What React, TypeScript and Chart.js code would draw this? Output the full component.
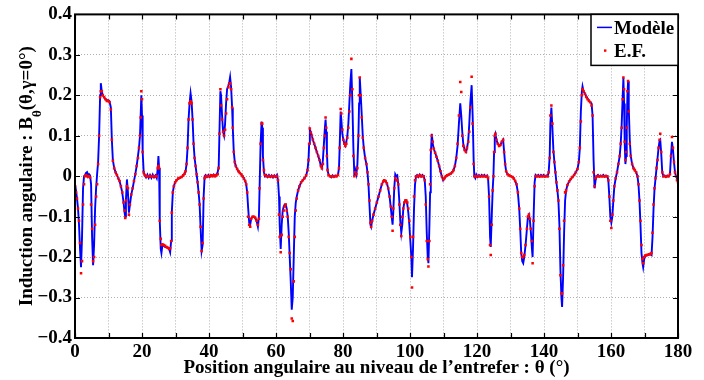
import React, { useEffect, useRef } from "react";
import { Chart, registerables } from "chart.js";

Chart.register(...registerables);

// Angular position (degrees)
const theta = [
  0, 0.3, 0.6, 0.9, 1.2, 1.5, 1.8, 2.1, 2.4, 2.7,
  3.0, 3.3, 3.6, 3.9, 4.2, 4.5, 4.8, 5.1, 5.4, 5.7,
  6.0, 6.3, 6.6, 6.9, 7.2, 7.5, 7.7, 8.0, 8.3, 8.7,
  9.1, 9.5, 9.9, 10.3, 10.7, 11.0, 11.3, 11.7, 12.1, 12.5,
  12.9, 13.3, 13.7, 14.1, 14.5, 14.8, 15.0, 15.2, 15.5, 15.8,
  16.1, 16.4, 16.8, 17.2, 17.6, 18.0, 18.4, 18.8, 19.1, 19.4,
  19.6, 19.8, 20.0, 20.2, 20.5, 20.8, 21.2, 21.6, 22.0, 22.4,
  22.8, 23.2, 23.6, 24.0, 24.4, 24.7, 24.9, 25.1, 25.3, 25.6,
  25.8, 26.1, 26.5, 26.9, 27.3, 27.7, 28.1, 28.4, 28.7, 28.9,
  29.2, 29.5, 29.9, 30.3, 30.8, 31.3, 31.8, 32.3, 32.7, 33.0,
  33.3, 33.6, 33.9, 34.2, 34.5, 34.8, 35.1, 35.4, 35.7, 36.0,
  36.3, 36.6, 36.9, 37.2, 37.5, 37.8, 38.1, 38.4, 38.7, 39.0,
  39.4, 39.8, 40.2, 40.6, 41.0, 41.4, 41.8, 42.2, 42.6, 42.9,
  43.1, 43.4, 43.6, 43.9, 44.2, 44.5, 44.8, 45.1, 45.4, 45.8,
  46.1, 46.3, 46.6, 46.9, 47.1, 47.4, 47.7, 48.0, 48.4, 48.8,
  49.2, 49.6, 50.0, 50.4, 50.8, 51.1, 51.4, 51.7, 52.0, 52.3,
  52.6, 53.0, 53.4, 53.8, 54.2, 54.6, 54.9, 55.1, 55.4, 55.7,
  55.9, 56.1, 56.4, 56.7, 57.1, 57.5, 57.9, 58.3, 58.7, 59.1,
  59.5, 59.9, 60.3, 60.6, 60.9, 61.1, 61.4, 61.7, 62.0, 62.3,
  62.6, 62.9, 63.2, 63.5, 63.8, 64.1, 64.4, 64.7, 65.0, 65.3,
  65.6, 65.9, 66.2, 66.6, 67.0, 67.5, 68.0, 68.5, 69.0, 69.4,
  69.7, 69.9, 70.1, 70.4, 70.7, 71.0, 71.4, 71.8, 72.2, 72.6,
  73.0, 73.4, 73.7, 74.0, 74.3, 74.6, 74.8, 75.0, 75.2, 75.4,
  75.7, 76.1, 76.5, 76.9, 77.3, 77.7, 78.1, 78.5, 78.8, 79.0,
  79.3, 79.5, 79.8, 80.1, 80.4, 80.7, 81.0, 81.3, 81.6, 81.9,
  82.2, 82.5, 82.8, 83.1, 83.4, 83.7, 84.0, 84.3, 84.6, 84.8,
  85.0, 85.3, 85.6, 85.9, 86.2, 86.6, 87.0, 87.3, 87.6, 87.9,
  88.2, 88.4, 88.7, 89.1, 89.6, 90.1, 90.6, 91.1, 91.6, 92.0,
  92.3, 92.7, 93.1, 93.5, 93.9, 94.3, 94.6, 94.8, 95.0, 95.3,
  95.6, 95.9, 96.2, 96.5, 96.8, 97.1, 97.4, 97.7, 98.0, 98.3,
  98.6, 98.9, 99.2, 99.5, 99.8, 100.1, 100.4, 100.6, 100.9, 101.2,
  101.5, 101.8, 102.1, 102.5, 102.9, 103.3, 103.7, 104.1, 104.4, 104.7,
  105.0, 105.3, 105.5, 105.8, 106.0, 106.2, 106.5, 106.8, 107.1, 107.5,
  107.9, 108.3, 108.7, 109.1, 109.5, 109.9, 110.3, 110.7, 111.1, 111.6,
  112.1, 112.6, 113.0, 113.4, 113.8, 114.2, 114.6, 115.0, 115.3, 115.6,
  115.9, 116.3, 116.7, 117.0, 117.4, 117.7, 118.0, 118.4, 118.7, 119.0,
  119.2, 119.5, 119.8, 120.2, 120.6, 121.0, 121.4, 121.8, 122.2, 122.6,
  123.0, 123.3, 123.6, 123.9, 124.1, 124.4, 124.7, 124.9, 125.1, 125.3,
  125.5, 125.8, 126.2, 126.6, 127.0, 127.4, 127.8, 128.1, 128.4, 128.7,
  129.1, 129.6, 130.1, 130.6, 131.0, 131.4, 131.8, 132.2, 132.6, 132.9,
  133.2, 133.5, 133.8, 134.1, 134.5, 134.9, 135.2, 135.5, 135.8, 136.1,
  136.4, 136.6, 136.9, 137.2, 137.5, 137.9, 138.3, 138.7, 139.1, 139.5,
  139.9, 140.3, 140.7, 141.1, 141.4, 141.7, 141.9, 142.2, 142.5, 142.8,
  143.1, 143.4, 143.7, 144.0, 144.3, 144.6, 144.9, 145.2, 145.4, 145.7,
  146.0, 146.3, 146.6, 147.0, 147.5, 148.0, 148.5, 149.0, 149.5, 150.0,
  150.4, 150.7, 151.0, 151.3, 151.5, 151.8, 152.2, 152.6, 153.0, 153.4,
  153.8, 154.2, 154.5, 154.8, 155.1, 155.4, 155.7, 156.1, 156.5, 156.9,
  157.3, 157.7, 158.1, 158.5, 158.9, 159.2, 159.5, 159.8, 160.1, 160.4,
  160.7, 161.0, 161.4, 161.8, 162.2, 162.6, 162.9, 163.2, 163.5, 163.7,
  163.9, 164.1, 164.3, 164.5, 164.7, 164.9, 165.1, 165.3, 165.6, 165.9,
  166.3, 166.7, 167.1, 167.5, 167.9, 168.2, 168.5, 168.8, 169.1, 169.4,
  169.6, 169.9, 170.2, 170.6, 171.0, 171.4, 171.8, 172.1, 172.4, 172.7,
  173.0, 173.3, 173.6, 173.9, 174.2, 174.5, 174.7, 175.0, 175.3, 175.6,
  176.0, 176.4, 176.8, 177.2, 177.6, 177.9, 178.2, 178.5, 178.8, 179.1,
  179.4, 179.7, 180.0,
];

// "Modèle" (analytical model), B_theta in T
const modele = [
  -0.02, -0.035, -0.055, -0.08, -0.12, -0.18, -0.225, -0.15, -0.03, 0.0,
  0.003, 0.008, 0.01, 0.0, 0.005, 0.002, -0.02, -0.15, -0.22, -0.17,
  -0.08, -0.03, 0.005, 0.035, 0.1, 0.2, 0.23, 0.21, 0.2, 0.195,
  0.19, 0.188, 0.188, 0.185, 0.17, 0.09, 0.04, 0.02, 0.01, 0.003,
  -0.005, -0.012, -0.025, -0.04, -0.065, -0.09, -0.1, -0.06, -0.008, -0.04,
  -0.09, -0.07, -0.045, -0.03, -0.012, 0.005, 0.025, 0.05, 0.07, 0.1,
  0.15, 0.2, 0.15, 0.06, 0.01, 0.003, -0.003, 0.004, -0.004, 0.003,
  -0.004, 0.004, -0.003, 0.002, -0.005, 0.02, 0.05, 0.02, -0.11, -0.18,
  -0.19, -0.17, -0.172, -0.175, -0.175, -0.178, -0.18, -0.188, -0.16, -0.09,
  -0.04, -0.025, -0.015, -0.01, -0.006, -0.004, -0.002, 0.002, 0.006, 0.012,
  0.03, 0.07, 0.14, 0.18, 0.205, 0.185, 0.14, 0.08, 0.045, 0.025,
  0.005, -0.015, -0.04, -0.07, -0.13, -0.185, -0.17, -0.05, 0.0, 0.003,
  -0.002, 0.003, -0.002, 0.003, 0.0, 0.004, 0.0, 0.004, 0.01, 0.025,
  0.1, 0.21, 0.2, 0.15, 0.11, 0.1, 0.13, 0.18, 0.215, 0.225,
  0.235, 0.245, 0.22, 0.17, 0.12, 0.06, 0.035, 0.025, 0.018, 0.012,
  0.008, 0.005, 0.0, -0.005, -0.012, -0.02, -0.04, -0.08, -0.115, -0.12,
  -0.105, -0.1, -0.1, -0.103, -0.11, -0.125, -0.1, -0.03, 0.08, 0.135,
  0.12, 0.05, 0.01, 0.0, 0.003, -0.002, 0.003, -0.002, 0.002, -0.003,
  0.002, -0.002, 0.003, -0.01, -0.05, -0.12, -0.18, -0.12, -0.085, -0.075,
  -0.07, -0.07, -0.08, -0.1, -0.14, -0.2, -0.26, -0.33, -0.3, -0.2,
  -0.1, -0.065, -0.05, -0.035, -0.025, -0.015, -0.01, -0.005, 0.002, 0.015,
  0.04, 0.08, 0.115, 0.11, 0.1, 0.09, 0.08, 0.07, 0.06, 0.05,
  0.04, 0.025, 0.02, 0.04, 0.08, 0.12, 0.14, 0.11, 0.06, 0.015,
  0.003, 0.0, -0.003, 0.002, -0.002, 0.002, 0.0, 0.003, 0.02, 0.07,
  0.16, 0.14, 0.105, 0.09, 0.08, 0.075, 0.085, 0.1, 0.13, 0.18,
  0.23, 0.265, 0.18, 0.07, 0.0, 0.015, 0.005, 0.03, 0.1, 0.18,
  0.245, 0.2, 0.15, 0.1, 0.07, 0.045, 0.03, 0.01, -0.02, -0.07,
  -0.12, -0.125, -0.11, -0.095, -0.08, -0.065, -0.05, -0.035, -0.02, -0.013,
  -0.01, -0.012, -0.018, -0.03, -0.05, -0.08, -0.105, -0.12, -0.09, -0.03,
  0.005, 0.0, 0.002, -0.02, -0.06, -0.11, -0.14, -0.12, -0.08, -0.065,
  -0.06, -0.06, -0.07, -0.09, -0.12, -0.16, -0.2, -0.25, -0.18, -0.08,
  -0.02, 0.0, 0.003, -0.002, 0.004, -0.001, 0.003, 0.0, -0.01, -0.05,
  -0.14, -0.2, -0.215, -0.12, -0.04, 0.05, 0.105, 0.08, 0.068, 0.058,
  0.048, 0.038, 0.025, 0.012, 0.0, -0.01, -0.005, 0.0, 0.002, 0.004,
  0.006, 0.01, 0.015, 0.025, 0.045, 0.075, 0.13, 0.18, 0.15, 0.11,
  0.08, 0.065, 0.06, 0.068, 0.09, 0.13, 0.18, 0.225, 0.15, 0.04,
  0.0, -0.005, 0.004, -0.002, 0.003, -0.001, 0.003, 0.0, 0.003, -0.001,
  0.002, -0.005, -0.05, -0.15, -0.175, -0.1, -0.03, 0.0, 0.06, 0.1,
  0.105, 0.09, 0.08, 0.075, 0.077, 0.085, 0.09, 0.06, 0.03, 0.012,
  0.005, 0.002, 0.0, -0.002, -0.006, -0.012, -0.02, -0.04, -0.08, -0.13,
  -0.19, -0.21, -0.215, -0.2, -0.17, -0.13, -0.1, -0.095, -0.11, -0.14,
  -0.18, -0.2, -0.1, -0.015, 0.003, 0.0, 0.003, -0.001, 0.003, 0.0,
  0.003, -0.001, 0.002, 0.0, 0.01, 0.05, 0.13, 0.17, 0.12, 0.065,
  0.035, 0.01, -0.015, -0.035, -0.06, -0.12, -0.23, -0.3, -0.323, -0.25,
  -0.14, -0.06, -0.035, -0.022, -0.013, -0.007, -0.002, 0.003, 0.01, 0.018,
  0.035, 0.07, 0.16, 0.21, 0.222, 0.21, 0.205, 0.198, 0.192, 0.188,
  0.183, 0.18, 0.15, 0.04, -0.03, -0.01, 0.0, 0.003, -0.001, 0.002,
  0.0, 0.003, -0.001, 0.002, 0.0, -0.01, -0.05, -0.1, -0.115, -0.1,
  -0.06, -0.025, -0.005, 0.01, 0.03, 0.05, 0.08, 0.13, 0.2, 0.243,
  0.18, 0.08, 0.03, 0.05, 0.12, 0.2, 0.235, 0.17, 0.09, 0.05,
  0.03, 0.02, 0.015, 0.01, 0.0, -0.02, -0.06, -0.12, -0.19, -0.215,
  -0.225, -0.205, -0.198, -0.196, -0.195, -0.194, -0.193, -0.195, -0.15, -0.08,
  -0.03, -0.005, 0.02, 0.045, 0.07, 0.088, 0.09, 0.055, 0.01, 0.0,
  0.002, -0.002, 0.002, 0.0, 0.005, 0.05, 0.085, 0.065, 0.035, 0.01,
  0.0, -0.005, -0.01,
];

// "E.F." (finite elements), B_theta in T
const ef = [
  -0.025, -0.04, -0.055, -0.08, -0.11, -0.165, -0.24, -0.21, -0.07, -0.02,
  0.0, 0.002, 0.0, 0.0, 0.0, -0.003, -0.07, -0.13, -0.21, -0.2,
  -0.12, -0.05, -0.02, 0.03, 0.1, 0.195, 0.21, 0.21, 0.2, 0.195,
  0.19, 0.186, 0.186, 0.183, 0.165, 0.09, 0.038, 0.02, 0.01, 0.003,
  -0.005, -0.012, -0.025, -0.04, -0.065, -0.085, -0.103, -0.06, -0.025, -0.03,
  -0.095, -0.07, -0.045, -0.03, -0.012, 0.005, 0.025, 0.045, 0.07, 0.1,
  0.145, 0.21, 0.19, 0.06, 0.01, 0.003, 0.0, 0.0, 0.0, 0.0,
  0.0, 0.0, 0.0, 0.0, 0.0, 0.02, 0.025, 0.02, -0.11, -0.155,
  -0.17, -0.168, -0.17, -0.172, -0.175, -0.177, -0.18, -0.178, -0.16, -0.09,
  -0.04, -0.025, -0.015, -0.01, -0.006, -0.004, -0.002, 0.002, 0.006, 0.012,
  0.03, 0.07, 0.14, 0.18, 0.185, 0.18, 0.14, 0.08, 0.045, 0.025,
  0.005, -0.015, -0.04, -0.07, -0.125, -0.185, -0.165, -0.055, -0.005, 0.0,
  0.0, 0.0, 0.0, 0.002, 0.0, 0.002, 0.0, 0.002, 0.005, 0.02,
  0.105, 0.215, 0.175, 0.14, 0.11, 0.1, 0.115, 0.155, 0.19, 0.22,
  0.228, 0.23, 0.215, 0.17, 0.12, 0.06, 0.035, 0.025, 0.018, 0.012,
  0.008, 0.005, 0.0, -0.005, -0.012, -0.02, -0.04, -0.1, -0.12, -0.125,
  -0.105, -0.1, -0.1, -0.103, -0.11, -0.12, -0.105, -0.03, 0.08, 0.13,
  0.13, 0.04, 0.015, 0.003, 0.0, 0.0, 0.0, 0.0, 0.0, 0.0,
  0.0, 0.0, 0.0, -0.01, -0.095, -0.15, -0.188, -0.145, -0.1, -0.085,
  -0.075, -0.07, -0.085, -0.1, -0.15, -0.19, -0.23, -0.352, -0.358, -0.26,
  -0.15, -0.085, -0.055, -0.035, -0.025, -0.015, -0.01, -0.005, 0.002, 0.015,
  0.04, 0.08, 0.118, 0.108, 0.1, 0.09, 0.08, 0.07, 0.06, 0.05,
  0.04, 0.025, 0.02, 0.03, 0.07, 0.1, 0.145, 0.12, 0.05, 0.015,
  0.003, 0.0, 0.0, 0.0, 0.0, 0.0, 0.0, 0.003, 0.02, 0.07,
  0.166, 0.155, 0.115, 0.09, 0.08, 0.075, 0.08, 0.095, 0.12, 0.16,
  0.2, 0.29, 0.215, 0.05, 0.0, 0.01, 0.005, 0.02, 0.1, 0.2,
  0.244, 0.2, 0.145, 0.095, 0.07, 0.045, 0.03, 0.01, -0.02, -0.06,
  -0.115, -0.125, -0.11, -0.095, -0.08, -0.065, -0.05, -0.035, -0.02, -0.013,
  -0.01, -0.012, -0.018, -0.03, -0.05, -0.075, -0.1, -0.135, -0.08, -0.03,
  -0.005, -0.01, -0.01, -0.02, -0.07, -0.12, -0.148, -0.1, -0.08, -0.065,
  -0.06, -0.06, -0.065, -0.08, -0.11, -0.15, -0.2, -0.275, -0.15, -0.05,
  -0.01, 0.0, 0.0, 0.0, 0.002, 0.0, 0.0, 0.0, -0.01, -0.07,
  -0.16, -0.205, -0.223, -0.16, -0.02, 0.065, 0.1, 0.085, 0.068, 0.058,
  0.048, 0.038, 0.025, 0.012, 0.0, -0.008, -0.005, 0.0, 0.002, 0.004,
  0.006, 0.01, 0.015, 0.025, 0.045, 0.08, 0.15, 0.233, 0.208, 0.1,
  0.075, 0.065, 0.06, 0.07, 0.085, 0.11, 0.17, 0.246, 0.13, 0.03,
  0.0, 0.0, 0.0, 0.0, 0.0, 0.0, 0.0, 0.0, 0.0, 0.0,
  0.0, -0.005, -0.05, -0.17, -0.195, -0.12, -0.035, 0.0, 0.06, 0.1,
  0.105, 0.09, 0.08, 0.075, 0.077, 0.085, 0.09, 0.06, 0.03, 0.012,
  0.005, 0.002, 0.0, -0.002, -0.006, -0.012, -0.02, -0.04, -0.08, -0.13,
  -0.19, -0.2, -0.2, -0.195, -0.17, -0.13, -0.1, -0.095, -0.105, -0.13,
  -0.16, -0.215, -0.11, -0.025, 0.0, 0.0, 0.0, 0.0, 0.0, 0.0,
  0.0, 0.0, 0.0, 0.0, 0.01, 0.045, 0.15, 0.175, 0.13, 0.06,
  0.035, 0.01, -0.015, -0.035, -0.06, -0.13, -0.245, -0.29, -0.29, -0.22,
  -0.11, -0.04, -0.035, -0.022, -0.013, -0.007, -0.002, 0.003, 0.01, 0.018,
  0.035, 0.07, 0.135, 0.2, 0.215, 0.21, 0.203, 0.196, 0.19, 0.186,
  0.183, 0.175, 0.15, 0.01, -0.025, -0.005, 0.0, 0.0, 0.0, 0.0,
  0.0, 0.0, 0.0, 0.0, 0.0, -0.01, -0.05, -0.11, -0.128, -0.095,
  -0.06, -0.025, -0.005, 0.01, 0.03, 0.05, 0.08, 0.12, 0.19, 0.244,
  0.215, 0.085, 0.04, 0.06, 0.12, 0.21, 0.235, 0.16, 0.08, 0.05,
  0.03, 0.02, 0.015, 0.01, 0.0, -0.02, -0.06, -0.11, -0.17, -0.205,
  -0.215, -0.2, -0.196, -0.195, -0.194, -0.193, -0.192, -0.19, -0.14, -0.07,
  -0.03, -0.005, 0.02, 0.04, 0.07, 0.09, 0.105, 0.06, 0.01, 0.0,
  0.0, 0.0, 0.0, 0.0, 0.005, 0.05, 0.097, 0.07, 0.035, 0.01,
  0.0, -0.01, -0.015,
];

const xMin = 0;
const xMax = 180;
const xStep = 10;
const xLabelStep = 20;
const yMin = -0.4;
const yMax = 0.4;
const yStep = 0.1;

const seriesNames = ["Modèle", "E.F."];
const xTitle = "Position angulaire au niveau de l\u2019entrefer : \u03b8 (\u00b0)";
const yTitleMain = "Induction angulaire : B";
const yTitleSub = "\u03b8";
const yTitleEnd = "(\u03b8,\u03b3=0\u00b0)";

const FONT = '"Liberation Serif", "Times New Roman", serif';

export default function App() {
  const ref = useRef<HTMLCanvasElement>(null);

  useEffect(() => {
    const canvas = ref.current;
    if (!canvas) return;
    const n = Math.min(theta.length, modele.length, ef.length);
    const modelData: { x: number; y: number }[] = [];
    const efData: { x: number; y: number }[] = [];
    for (let i = 0; i < n; i++) {
      modelData.push({ x: theta[i], y: modele[i] });
      efData.push({ x: theta[i], y: ef[i] });
    }

    const overlay = {
      id: "overlay",
      afterDatasetsDraw(chart: any) {
        const ctx: CanvasRenderingContext2D = chart.ctx;
        const a = chart.chartArea;
        const xs = chart.scales.x;
        const ys = chart.scales.y;
        ctx.save();
        ctx.setLineDash([]);
        // inner ticks on all four sides
        ctx.strokeStyle = "#000";
        ctx.lineWidth = 1.2;
        ctx.beginPath();
        xs.ticks.forEach((t: any) => {
          const px = Math.round(xs.getPixelForValue(t.value)) + 0.5;
          ctx.moveTo(px, a.bottom);
          ctx.lineTo(px, a.bottom - 5);
          ctx.moveTo(px, a.top);
          ctx.lineTo(px, a.top + 5);
        });
        ys.ticks.forEach((t: any) => {
          const py = Math.round(ys.getPixelForValue(t.value)) + 0.5;
          ctx.moveTo(a.left, py);
          ctx.lineTo(a.left + 5, py);
          ctx.moveTo(a.right, py);
          ctx.lineTo(a.right - 5, py);
        });
        ctx.stroke();
        // frame
        ctx.lineWidth = 2;
        ctx.strokeRect(a.left, a.top, a.right - a.left, a.bottom - a.top);

        // legend
        const lx0 = a.right - 87;
        const ly0 = a.top;
        const lw = 87;
        const lh = 51;
        ctx.fillStyle = "#fff";
        ctx.fillRect(lx0, ly0, lw, lh);
        ctx.lineWidth = 1.5;
        ctx.strokeStyle = "#000";
        ctx.strokeRect(lx0, ly0, lw, lh);
        ctx.strokeStyle = "#0000ff";
        ctx.lineWidth = 1.5;
        ctx.beginPath();
        ctx.moveTo(lx0 + 6, ly0 + 13);
        ctx.lineTo(lx0 + 21, ly0 + 13);
        ctx.stroke();
        ctx.fillStyle = "#ff0000";
        ctx.fillRect(lx0 + 13, ly0 + 35, 2.4, 2.4);
        ctx.fillStyle = "#000";
        ctx.font = `bold 19px ${FONT}`;
        ctx.textAlign = "left";
        ctx.textBaseline = "alphabetic";
        ctx.fillText(seriesNames[0], lx0 + 23, ly0 + 20);
        ctx.fillText(seriesNames[1], lx0 + 23, ly0 + 43);

        // x title
        ctx.textAlign = "center";
        ctx.fillText(xTitle, (a.left + a.right) / 2, 373);

        // y title (rotated, with subscript)
        ctx.save();
        ctx.translate(32, (a.top + a.bottom) / 2);
        ctx.rotate(-Math.PI / 2);
        ctx.textAlign = "left";
        ctx.font = `bold 19px ${FONT}`;
        const w1 = ctx.measureText(yTitleMain).width;
        const w3 = ctx.measureText(yTitleEnd).width;
        ctx.font = `bold 13px ${FONT}`;
        const w2 = ctx.measureText(yTitleSub).width;
        const total = w1 + w2 + w3;
        const sx = -total / 2;
        ctx.font = `bold 19px ${FONT}`;
        ctx.fillText(yTitleMain, sx, 0);
        ctx.font = `bold 13px ${FONT}`;
        ctx.fillText(yTitleSub, sx + w1, 9);
        ctx.font = `bold 19px ${FONT}`;
        ctx.fillText(yTitleEnd, sx + w1 + w2, 0);
        ctx.restore();

        ctx.restore();
      },
    };

    const tickFont = { family: FONT, size: 19, weight: "bold" as const };

    const chart = new Chart(canvas, {
      type: "scatter",
      data: {
        datasets: [
          {
            label: seriesNames[0],
            data: modelData,
            showLine: true,
            borderColor: "#0000ff",
            borderWidth: 1.9,
            pointRadius: 0,
            fill: false,
            tension: 0,
            order: 2,
          },
          {
            label: seriesNames[1],
            data: efData,
            showLine: false,
            pointStyle: "rect",
            pointRadius: 1.8,
            pointBorderWidth: 0,
            pointBackgroundColor: "#ff0000",
            pointBorderColor: "#ff0000",
            order: 1,
          },
        ],
      },
      options: {
        responsive: false,
        animation: false,
        events: [],
        layout: { padding: { top: 13, right: 26, left: 0, bottom: 0 } },
        plugins: {
          legend: { display: false },
          tooltip: { enabled: false },
          title: { display: false },
        },
        scales: {
          x: {
            type: "linear",
            min: xMin,
            max: xMax,
            afterFit: (s: any) => {
              s.height = 42;
            },
            ticks: {
              stepSize: xStep,
              autoSkip: false,
              maxRotation: 0,
              padding: 3,
              color: "#000",
              font: tickFont,
              callback: (v: any) => (Math.round(v) % xLabelStep === 0 ? String(Math.round(v)) : ""),
            },
            grid: { color: "#b0b0b0", lineWidth: 1, drawTicks: false },
            border: { display: false, dash: [1, 2] },
          },
          y: {
            type: "linear",
            min: yMin,
            max: yMax,
            afterFit: (s: any) => {
              s.width = 75;
            },
            ticks: {
              stepSize: yStep,
              autoSkip: false,
              padding: 3,
              color: "#000",
              font: tickFont,
              callback: (v: any) => {
                const r = Math.round(v * 10) / 10;
                if (r === 0) return "0";
                return (r < 0 ? "\u2212" : "") + Math.abs(r).toFixed(1);
              },
            },
            grid: { color: "#b0b0b0", lineWidth: 1, drawTicks: false },
            border: { display: false, dash: [1, 2] },
          },
        },
      },
      plugins: [overlay],
    });

    return () => chart.destroy();
  }, []);

  return (
    <div style={{ position: "fixed", left: 0, top: 0, width: 704, height: 380, background: "#fff" }}>
      <canvas ref={ref} width={704} height={380} style={{ display: "block" }} />
    </div>
  );
}
